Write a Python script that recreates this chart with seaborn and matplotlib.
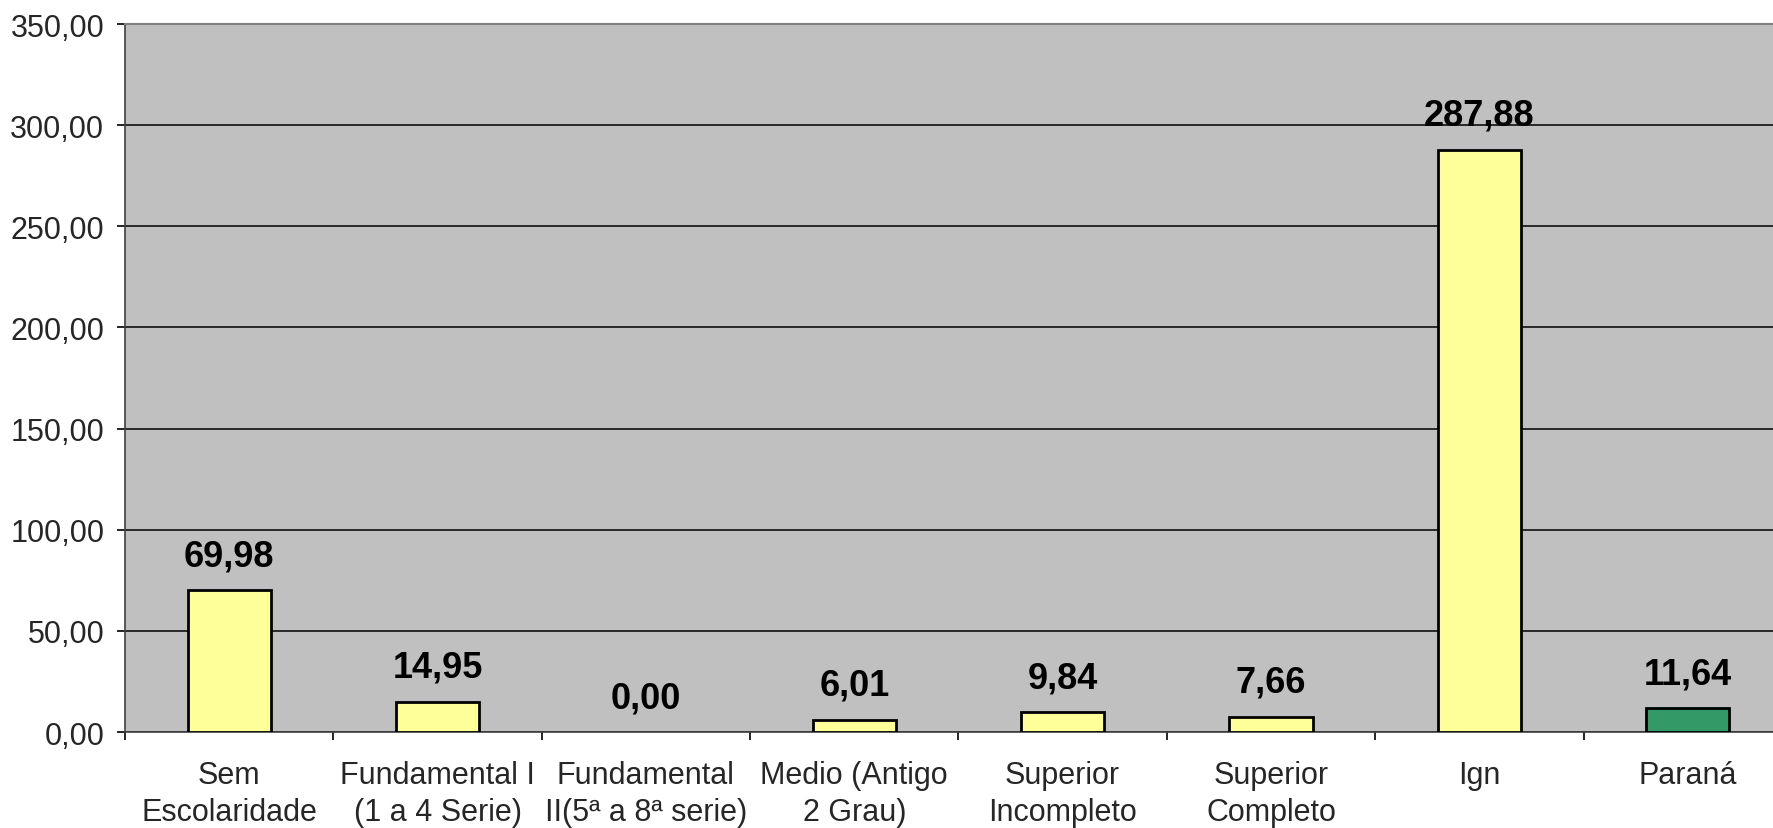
import matplotlib
matplotlib.use('Agg')
import matplotlib.pyplot as plt
import seaborn as sns
import pandas as pd
from matplotlib.ticker import FixedLocator, FuncFormatter

# data
categories = ['Sem\nEscolaridade', 'Fundamental I\n(1 a 4 Serie)',
              'Fundamental\nII(5ª a 8ª serie)', 'Medio (Antigo\n2 Grau)',
              'Superior\nIncompleto', 'Superior\nCompleto', 'Ign', 'Paraná']
values = [69.98, 14.95, 0.00, 6.01, 9.84, 7.66, 287.88, 11.64]
bar_colors = ['#FFFF99'] * 7 + ['#339966']

sns.set_theme(style='white')
plt.rcParams['font.family'] = ['Liberation Sans', 'DejaVu Sans']

df = pd.DataFrame({'cat': categories, 'val': values})

fig = plt.figure(figsize=(17.73, 8.29), dpi=100)
ax = fig.add_axes([0.0705, 0.1158, 0.9402, 0.854])
ax.set_facecolor('#C0C0C0')

sns.barplot(data=df, x='cat', y='val', hue='cat', palette=bar_colors,
            legend=False, width=0.40, edgecolor='black', linewidth=2,
            saturation=1, ax=ax, zorder=3)

# zero-height bar draws nothing in the reference
for patch, v in zip(ax.patches, values):
    if v == 0:
        patch.set_linewidth(0)

# ── axes & grid ─────────────────────────────
ax.set_ylim(0, 350)
ax.set_xlim(-0.5, len(categories) - 0.5)
ax.set_yticks(range(0, 351, 50))
ax.yaxis.set_major_formatter(FuncFormatter(lambda v, p: f'{v:.2f}'.replace('.', ',')))
ax.grid(axis='y', color='black', linewidth=1.1, zorder=1)
ax.set_axisbelow(True)
ax.set_xlabel('')
ax.set_ylabel('')

for s in ['left', 'bottom']:
    ax.spines[s].set_color('#404040')
    ax.spines[s].set_linewidth(1.2)
ax.spines['top'].set_color('#808080')
ax.spines['top'].set_linewidth(1.5)
ax.spines['right'].set_visible(False)

ax.tick_params(axis='y', direction='out', length=6, width=1.2, color='black',
               pad=9, labelsize=22, left=True)
ax.tick_params(axis='x', which='major', length=0, pad=20, labelsize=22)
ax.xaxis.set_minor_locator(FixedLocator([i - 0.5 for i in range(len(categories) + 1)]))
ax.tick_params(axis='x', which='minor', direction='out', length=6, width=1.2,
               color='black', bottom=True)
for lab in ax.get_xticklabels():
    lab.set_linespacing(1.3)

# ── value labels ────────────────────────────
for i, v in enumerate(values):
    ax.annotate(f'{v:.2f}'.replace('.', ','), xy=(i, v), xytext=(0, 18),
                textcoords='offset points', ha='center', va='baseline',
                fontsize=26, fontweight='bold', color='black', zorder=4)

plt.savefig('out.png', dpi=100)
